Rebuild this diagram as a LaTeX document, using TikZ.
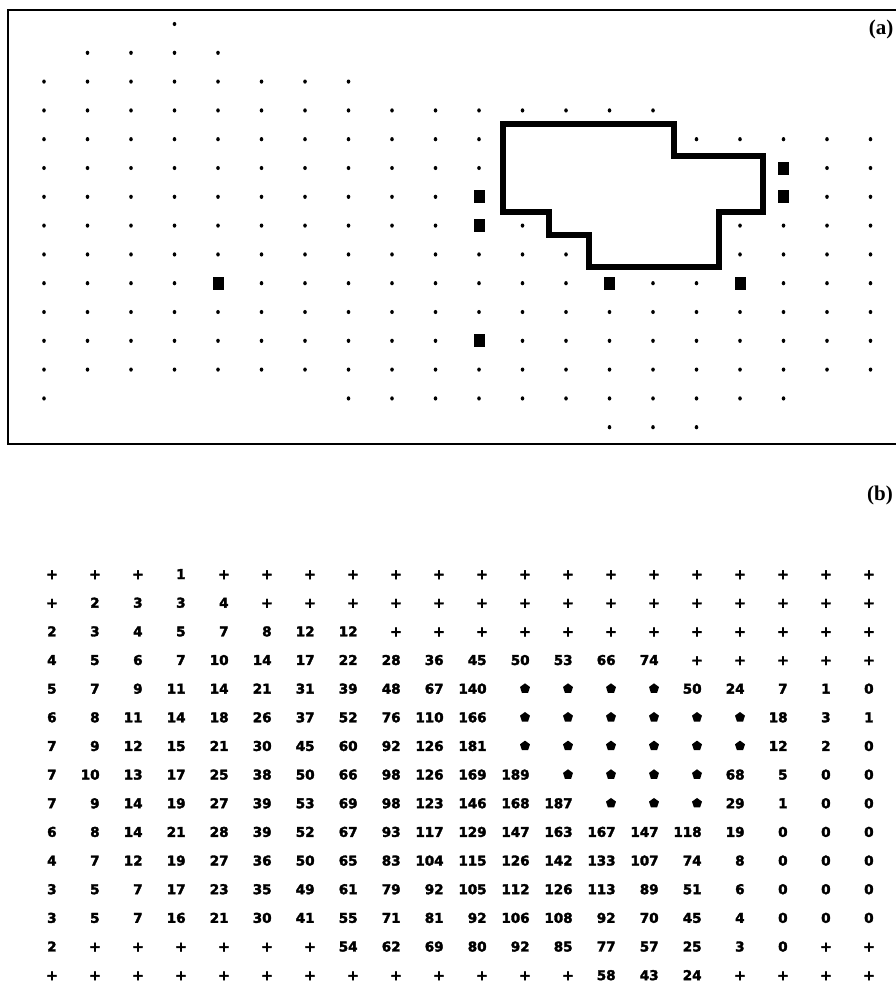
\documentclass[tikz,border=0pt]{standalone}
\usepackage{fontspec}
\usepackage{etoolbox}
\usetikzlibrary{shapes.geometric}
\newfontfamily\numfont{DejaVu Sans Bold}[FakeBold=2.5]
\newfontfamily\labfont{Liberation Serif}
\tikzset{
  numtext/.style={font=\numfont\fontsize{13.5}{16}\selectfont, inner sep=0pt, anchor=base east},
  plustext/.style={font=\numfont\fontsize{14}{16}\selectfont, inner sep=0pt, anchor=base},
  starmark/.style={regular polygon, regular polygon sides=5, fill=black, inner sep=0pt, minimum size=10.5pt},
  lab/.style={font=\labfont\bfseries\fontsize{21}{24}\selectfont, inner sep=0pt},
  framel/.style={line width=2.5pt},
  outline/.style={line width=6.5pt, line join=miter}
}
\begin{document}
\begin{tikzpicture}[x=1pt,y=-1pt]
\useasboundingbox (0,0) rectangle (896,983);
\fill[white] (0,0) rectangle (896,983);
% ---------- (a) ----------
\draw[framel] (900,10) -- (8,10) -- (8,444) -- (900,444);
\node[lab] (la) at (881,29) {(a)};
\foreach \r/\cols in {0/{3},1/{1,2,3,4},2/{0,1,2,3,4,5,6,7},
  3/{0,1,2,3,4,5,6,7,8,9,10,11,12,13,14},
  4/{0,1,2,3,4,5,6,7,8,9,10,15,16,17,18,19},
  5/{0,1,2,3,4,5,6,7,8,9,10,18,19},
  6/{0,1,2,3,4,5,6,7,8,9,18,19},
  7/{0,1,2,3,4,5,6,7,8,9,11,16,17,18,19},
  8/{0,1,2,3,4,5,6,7,8,9,10,11,12,16,17,18,19},
  9/{0,1,2,3,5,6,7,8,9,10,11,12,14,15,17,18,19},
  10/{0,1,2,3,4,5,6,7,8,9,10,11,12,13,14,15,16,17,18,19},
  11/{0,1,2,3,4,5,6,7,8,9,11,12,13,14,15,16,17,18,19},
  12/{0,1,2,3,4,5,6,7,8,9,10,11,12,13,14,15,16,17,18,19},
  13/{0,7,8,9,10,11,12,13,14,15,16,17},
  14/{13,14,15}}{
  \foreach \c in \cols {
    \fill ({44+43.5*\c},{24+28.8*\r}) ellipse [x radius=1.8pt, y radius=2.1pt];
  }
}
\foreach \c/\r in {10/6,10/7,17/5,17/6,4/9,13/9,16/9,10/11}{
  \fill ({44+43.5*\c-5.5},{24+28.8*\r-6.5}) rectangle ({44+43.5*\c+5.5},{24+28.8*\r+6.5});
}
\draw[outline] (503,124) -- (674,124) -- (674,156) -- (763,156) -- (763,212)
  -- (719,212) -- (719,267) -- (589,267) -- (589,235) -- (549,235)
  -- (549,212) -- (503,212) -- cycle;
% ---------- (b) ----------
\node[lab] (lb) at (880,495) {(b)};
\foreach \r/\vals in {
 0/{p,p,p,1,p,p,p,p,p,p,p,p,p,p,p,p,p,p,p,p},
 1/{p,2,3,3,4,p,p,p,p,p,p,p,p,p,p,p,p,p,p,p},
 2/{2,3,4,5,7,8,12,12,p,p,p,p,p,p,p,p,p,p,p,p},
 3/{4,5,6,7,10,14,17,22,28,36,45,50,53,66,74,p,p,p,p,p},
 4/{5,7,9,11,14,21,31,39,48,67,140,s,s,s,s,50,24,7,1,0},
 5/{6,8,11,14,18,26,37,52,76,110,166,s,s,s,s,s,s,18,3,1},
 6/{7,9,12,15,21,30,45,60,92,126,181,s,s,s,s,s,s,12,2,0},
 7/{7,10,13,17,25,38,50,66,98,126,169,189,s,s,s,s,68,5,0,0},
 8/{7,9,14,19,27,39,53,69,98,123,146,168,187,s,s,s,29,1,0,0},
 9/{6,8,14,21,28,39,52,67,93,117,129,147,163,167,147,118,19,0,0,0},
 10/{4,7,12,19,27,36,50,65,83,104,115,126,142,133,107,74,8,0,0,0},
 11/{3,5,7,17,23,35,49,61,79,92,105,112,126,113,89,51,6,0,0,0},
 12/{3,5,7,16,21,30,41,55,71,81,92,106,108,92,70,45,4,0,0,0},
 13/{2,p,p,p,p,p,p,54,62,69,80,92,85,77,57,25,3,0,p,p},
 14/{p,p,p,p,p,p,p,p,p,p,p,p,p,58,43,24,p,p,p,p}}{
  \foreach \v [count=\c from 0] in \vals {
    \pgfmathsetmacro\xx{52+43*\c}
    \pgfmathsetmacro\yy{574+28.65*\r}
    \ifdefstring{\v}{p}{\node[plustext] (b-\r-\c) at (\xx,\yy+5.1) {+};}{%
      \ifdefstring{\v}{s}{\node[starmark] (b-\r-\c) at (\xx,\yy) {};}{%
        \node[numtext] (b-\r-\c) at (\xx+4.8,\yy+5) {\v};}}
  }
}
\end{tikzpicture}
\end{document}
